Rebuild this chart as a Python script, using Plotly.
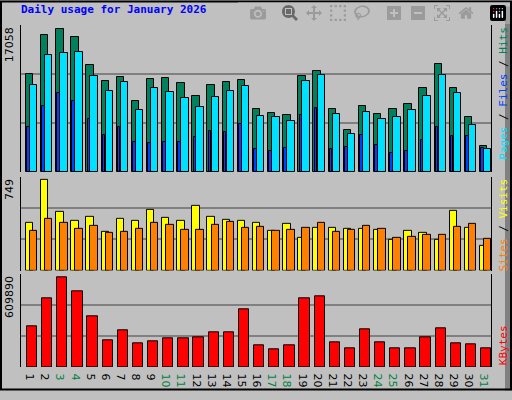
import plotly.graph_objects as go

days = list(range(1, 32))
weekend = [3, 4, 10, 11, 17, 18, 24, 25, 31]

hits = [11410, 15930, 16610, 15710, 12420, 10510, 11070, 8240, 10850, 10950, 10290, 8820, 10050, 10390, 10730, 7330,
        6890, 6670, 11190, 11750, 7330, 4860, 7680, 6770, 7330, 7910, 9720, 12540, 9720, 6430, 3050]
files = [10050, 13560, 13780, 13900, 11190, 9380, 10390, 7230, 9720, 9260, 8580, 7570, 8700, 9380, 9940, 6550,
         6330, 5870, 10510, 11290, 6770, 4400, 7010, 6210, 6330, 7230, 8820, 11290, 9140, 5420, 2710]
pages = [5200, 7680, 9140, 8240, 6210, 4300, 5200, 3500, 3390, 3500, 3500, 4060, 4740, 4640, 5540, 2710,
         2490, 2830, 6670, 7450, 2710, 2930, 4300, 3160, 2250, 2490, 3740, 5200, 4180, 4180, 2810]
visits = [380, 723, 466, 396, 427, 310, 411, 396, 489, 419, 396, 520, 427, 403, 396, 380,
          318, 372, 263, 341, 341, 333, 333, 325, 247, 318, 302, 247, 481, 341, 201]
sites = [318, 411, 380, 333, 357, 302, 310, 333, 380, 364, 325, 325, 364, 388, 341, 349,
         318, 325, 341, 380, 310, 325, 357, 333, 263, 271, 286, 286, 349, 372, 255]
kbytes = [268000, 454000, 589000, 499000, 332000, 178000, 242000, 159000, 171000, 190000, 190000, 197000, 229000,
          229000, 377000, 146000, 114000, 146000, 454000, 467000, 165000, 126000, 248000, 165000, 120000, 126000,
          197000, 255000, 159000, 152000, 126000]

max_hits = 17058
max_visits = 749
max_kb = 609890

ticktext = ["<span style='color:#008040'>%d</span>" % d if d in weekend else str(d) for d in days]
line = dict(color="black", width=1)

fig = go.Figure()
# top panel
fig.add_trace(go.Bar(x=days, y=hits, marker=dict(color="#00805c", line=line), offset=-0.38, width=0.49, yaxis="y"))
fig.add_trace(go.Bar(x=days, y=files, marker=dict(color="#00e0ff", line=line), offset=-0.11, width=0.49, yaxis="y"))
fig.add_trace(go.Bar(x=days, y=pages, marker=dict(color="#0040ff", line=line), offset=-0.3, width=0.17, yaxis="y"))
# middle panel
fig.add_trace(go.Bar(x=days, y=visits, marker=dict(color="#ffff00", line=line), offset=-0.38, width=0.49, yaxis="y2"))
fig.add_trace(go.Bar(x=days, y=sites, marker=dict(color="#ff8000", line=line), offset=-0.11, width=0.49, yaxis="y2"))
# bottom panel
fig.add_trace(go.Bar(x=days, y=kbytes, marker=dict(color="#ff0000", line=line), offset=-0.31, width=0.68, yaxis="y3"))

yax = dict(showticklabels=False, showgrid=True, gridcolor="#808080", gridwidth=1.5, zeroline=False,
           showline=True, linecolor="black", mirror=True, ticks="")
fig.update_layout(
    width=512, height=400,
    margin=dict(l=21, r=21, t=25, b=24),
    paper_bgcolor="#c0c0c0", plot_bgcolor="#c0c0c0",
    showlegend=False, barmode="overlay", bargap=0,
    font=dict(family="DejaVu Sans", size=11, color="black"),
    xaxis=dict(anchor="y3", range=[0.3, 31.35], tickvals=days, ticktext=ticktext, showgrid=False, zeroline=False,
               showline=False, ticks="", tickfont=dict(size=11)),
    yaxis=dict(yax, domain=[0.57, 1], range=[0, max_hits], tickvals=[max_hits / 3, max_hits * 2 / 3]),
    yaxis2=dict(yax, domain=[0.282, 0.556], range=[0, max_visits], tickvals=[max_visits / 3, max_visits * 2 / 3]),
    yaxis3=dict(yax, domain=[0, 0.271], range=[0, max_kb], tickvals=[max_kb / 3, max_kb * 2 / 3]),
)

mono = dict(family="DejaVu Sans Mono", size=11)
fig.add_annotation(text="<b>Daily usage for January 2026</b>", xref="paper", yref="paper", x=-0.004, y=1.045,
                   xanchor="left", yanchor="middle", showarrow=False, font=dict(mono, size=11, color="#0000ff"))
for label, y in [(str(max_hits), 1.0), (str(max_visits), 0.556), (str(max_kb), 0.271)]:
    fig.add_annotation(text=label, xref="paper", yref="paper", x=-0.024, y=y, textangle=-90,
                       xanchor="center", yanchor="top", showarrow=False, font=dict(family="DejaVu Sans", size=11))
fig.add_annotation(text="<span style='color:#00e0ff'>Pages</span> / <span style='color:#0040ff'>Files</span> / "
                        "<span style='color:#00805c'>Hits</span>",
                   xref="paper", yref="paper", x=1.026, y=1.0, textangle=-90, xanchor="center", yanchor="top",
                   showarrow=False, font=mono)
fig.add_annotation(text="<span style='color:#ff8000'>Sites</span> / <span style='color:#ffff00'>Visits</span>",
                   xref="paper", yref="paper", x=1.026, y=0.556, textangle=-90, xanchor="center", yanchor="top",
                   showarrow=False, font=mono)
fig.add_annotation(text="<span style='color:#ff0000'>KBytes</span>", xref="paper", yref="paper", x=1.026, y=0.0,
                   textangle=-90, xanchor="center", yanchor="bottom", showarrow=False, font=mono)

# outer frame with shadow
x0, x1 = -21 / 470, 1 + 21 / 470
y0, y1 = -24 / 351, 1 + 25 / 351
fig.add_shape(type="rect", xref="paper", yref="paper", x0=1 + 14 / 470, x1=x1, y0=y0, y1=1 + 19 / 351,
              fillcolor="#808080", line_width=0, layer="below")
fig.add_shape(type="rect", xref="paper", yref="paper", x0=x0, x1=1 + 14 / 470, y0=-17 / 351, y1=1 + 19 / 351,
              fillcolor="#c0c0c0", line_width=0, layer="below")
fig.add_shape(type="rect", xref="paper", yref="paper", x0=x0 + 1 / 470, x1=x1 - 1 / 470, y0=y0 + 1 / 351,
              y1=y1 - 1 / 351, line=dict(color="black", width=2))

fig.write_html("out.html", post_script="document.body.style.margin='0';")
